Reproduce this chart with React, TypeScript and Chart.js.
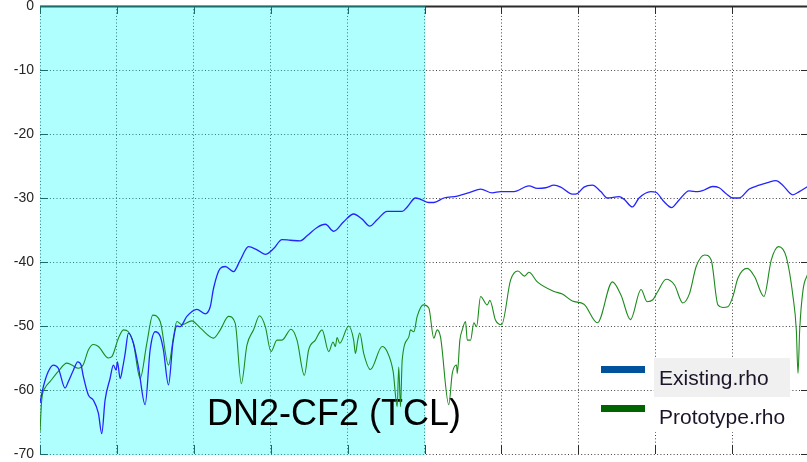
import { useEffect, useRef } from "react";
import { Chart, registerables } from "chart.js";

Chart.register(...registerables);

// Reflection coefficient traces, [x, dB]
const existingRho: [number, number][] = [
  [0, -62], [0.043, -59.5], [0.108, -57.1], [0.173, -56.1], [0.238, -56.6], [0.326, -59.7],
  [0.368, -58.7], [0.434, -56.9], [0.491, -55.6], [0.534, -56.1], [0.564, -57.9], [0.629, -60.8],
  [0.694, -61.6], [0.759, -63.6], [0.803, -66.8], [0.846, -61.6], [0.911, -58.2], [0.954, -56.1],
  [0.99, -56.9], [1.007, -55.6], [1.042, -58.2], [1.077, -56.4], [1.107, -54.3], [1.15, -51.1],
  [1.215, -52.7], [1.28, -56.4], [1.367, -62.3], [1.432, -53.75], [1.497, -50.9], [1.563, -51.6],
  [1.605, -53.75], [1.671, -59.2], [1.728, -52.7], [1.78, -50.0], [1.823, -50.1], [1.91, -48.5],
  [2.04, -47.4], [2.148, -48.1], [2.214, -47.0], [2.257, -44.1], [2.344, -41.0], [2.409, -40.7],
  [2.517, -41.5], [2.604, -39.7], [2.712, -37.6], [2.822, -38.1], [2.93, -38.8], [3.038, -37.9],
  [3.147, -36.5], [3.255, -36.6], [3.385, -36.7], [3.473, -35.9], [3.603, -34.6], [3.711, -34.1],
  [3.819, -35.2], [3.949, -33.7], [4.079, -32.5], [4.189, -33.3], [4.288, -34.4], [4.384, -33.4],
  [4.514, -32.1], [4.71, -32.1], [4.775, -31.4], [4.883, -30.0], [4.948, -30.2], [5.056, -30.7],
  [5.121, -30.7], [5.251, -30.0], [5.426, -29.7], [5.599, -29.1], [5.729, -28.6], [5.881, -29.2],
  [5.99, -29.0], [6.163, -29.0], [6.358, -28.1], [6.467, -28.5], [6.576, -28.4], [6.684, -28.0],
  [6.771, -28.3], [6.923, -29.4], [6.988, -29.3], [7.074, -28.3], [7.184, -28.0], [7.292, -29.0],
  [7.379, -30.0], [7.53, -29.8], [7.595, -30.2], [7.704, -31.4], [7.79, -30.0], [7.943, -29.0],
  [8.008, -29.1], [8.116, -30.6], [8.212, -31.5], [8.311, -30.3], [8.441, -28.9], [8.551, -29.0],
  [8.637, -28.75], [8.746, -28.2], [8.832, -28.4], [8.919, -29.3], [9.007, -30.0], [9.092, -30.0],
  [9.223, -28.6], [9.353, -28.0], [9.462, -27.6], [9.57, -27.3], [9.658, -28.0], [9.788, -29.5],
  [9.874, -29.0], [9.983, -28.2],
];

const prototypeRho: [number, number][] = [
  [0, -66.5], [0.022, -61.6], [0.065, -59.7], [0.13, -58.7], [0.238, -57.1], [0.348, -55.8],
  [0.413, -56.1], [0.499, -56.6], [0.56, -56.1], [0.629, -53.75], [0.694, -52.9], [0.759, -53.2],
  [0.889, -55.0], [0.934, -54.8], [1.02, -51.9], [1.085, -50.6], [1.15, -50.9], [1.215, -52.7],
  [1.302, -58.2], [1.389, -52.7], [1.467, -48.3], [1.563, -49.3], [1.671, -56.1], [1.736, -51.7],
  [1.78, -49.3], [1.845, -49.8], [1.975, -49.2], [2.083, -50.3], [2.257, -51.9], [2.344, -50.6],
  [2.452, -48.5], [2.539, -49.6], [2.618, -59.0], [2.691, -53.0], [2.777, -50.6], [2.855, -48.4],
  [2.93, -50.1], [3.004, -54.0], [3.082, -52.2], [3.147, -52.2], [3.264, -50.5], [3.342, -52.2],
  [3.438, -57.7], [3.493, -53.75], [3.581, -52.2], [3.668, -50.6], [3.754, -54.0], [3.811, -52.5],
  [3.841, -53.2], [3.863, -51.8], [3.897, -52.7], [4.014, -50.0], [4.079, -52.2], [4.102, -54.3],
  [4.132, -52.2], [4.158, -51.1], [4.21, -54.3], [4.297, -56.8], [4.449, -53.2], [4.514, -54.0],
  [4.592, -57.1], [4.645, -62.6], [4.665, -56.4], [4.688, -62.6], [4.71, -55.3], [4.796, -51.7],
  [4.818, -50.6], [4.861, -50.9], [4.905, -48.5], [4.983, -46.7], [5.056, -47.2], [5.121, -51.9],
  [5.165, -50.6], [5.208, -51.7], [5.316, -62.3], [5.361, -57.4], [5.417, -56.1], [5.426, -57.4],
  [5.46, -52.2], [5.491, -50.6], [5.534, -49.3], [5.556, -52.2], [5.599, -52.2], [5.642, -49.5],
  [5.677, -50.1], [5.729, -45.4], [5.816, -46.7], [5.85, -46.0], [5.924, -49.1], [6.003, -49.8],
  [6.12, -42.8], [6.215, -41.4], [6.302, -42.2], [6.358, -41.6], [6.467, -43.1], [6.684, -44.6],
  [6.793, -45.0], [6.923, -46.1], [7.074, -46.6], [7.249, -49.5], [7.444, -43.1], [7.556, -45.2],
  [7.678, -49.0], [7.816, -44.3], [7.895, -46.2], [7.969, -45.9], [8.034, -44.6], [8.142, -42.7],
  [8.251, -43.6], [8.359, -46.4], [8.447, -44.9], [8.533, -40.7], [8.642, -38.9], [8.728, -39.7],
  [8.815, -46.7], [8.88, -47.1], [8.945, -47.0], [9.01, -45.4], [9.076, -42.5], [9.197, -41.0],
  [9.293, -42.3], [9.414, -45.4], [9.509, -39.7], [9.605, -37.6], [9.704, -39.2], [9.792, -45.4],
  [9.835, -50.6], [9.857, -57.4], [9.879, -50.6], [9.922, -44.4], [9.987, -41.8],
];

const seriesLabels = ["Existing.rho", "Prototype.rho"];
const lineColors = ["#2424ff", "#1c8a1c"];
const legendColors = ["#00529c", "#006400"];
const titleText = "DN2-CF2 (TCL)";

const xRange = [0, 10];
const yRange = [-70, 0];
const tickStep = 10;
const bandRange = [0, 5];

const FONT = "'Liberation Sans', Arial, sans-serif";

const decorations = {
  id: "decorations",
  beforeDatasetsDraw(chart: any) {
    const { ctx, chartArea: a, scales } = chart;
    const xs = scales.x;
    const ys = scales.y;
    ctx.save();
    // inward tick marks on all four sides
    ctx.strokeStyle = "#2b2b2b";
    ctx.lineWidth = 1;
    ctx.beginPath();
    for (const t of ys.ticks) {
      const py = Math.round(ys.getPixelForValue(t.value)) + 0.5;
      ctx.moveTo(a.left, py);
      ctx.lineTo(a.left + 8, py);
      ctx.moveTo(a.right - 8, py);
      ctx.lineTo(a.right, py);
    }
    for (const t of xs.ticks) {
      const px = Math.round(xs.getPixelForValue(t.value)) + 0.5;
      ctx.moveTo(px, a.top);
      ctx.lineTo(px, a.top + 8);
      ctx.moveTo(px, a.bottom);
      ctx.lineTo(px, a.bottom - 9);
    }
    ctx.stroke();
    // solid top edge of the box
    ctx.lineWidth = 2;
    ctx.beginPath();
    ctx.moveTo(a.left, a.top + 0.5);
    ctx.lineTo(a.right, a.top + 0.5);
    ctx.stroke();
    // translucent cyan band
    const x0 = xs.getPixelForValue(bandRange[0]);
    const x1 = xs.getPixelForValue(bandRange[1]);
    ctx.fillStyle = "rgba(0,255,255,0.31)";
    ctx.fillRect(x0, a.top, x1 - x0 + 1, a.bottom - a.top + 1);
    // annotation text
    ctx.fillStyle = "#000";
    ctx.font = `36px ${FONT}`;
    ctx.textAlign = "left";
    ctx.textBaseline = "alphabetic";
    ctx.fillText(titleText, a.left + 167, a.bottom - 29);
    ctx.restore();
  },
  afterDraw(chart: any) {
    const { ctx, chartArea: a } = chart;
    ctx.save();
    const swatchX = a.right - 208;
    const textX = a.right - 150;
    const boxX = a.right - 155;
    const rows = [
      { top: a.top + 352, bg: "#f0f0f0" },
      { top: a.top + 391, bg: "#ffffff" },
    ];
    chart.data.datasets.forEach((ds: any, i: number) => {
      const r = rows[i];
      ctx.fillStyle = r.bg;
      ctx.fillRect(boxX, r.top, 136, i === 0 ? 39 : 35);
      ctx.fillStyle = legendColors[i];
      ctx.fillRect(swatchX, r.top + 8, 44, 7);
      ctx.fillStyle = "#1c1428";
      ctx.font = `21px ${FONT}`;
      ctx.textAlign = "left";
      ctx.textBaseline = "alphabetic";
      ctx.fillText(ds.label, textX, r.top + 27);
    });
    ctx.restore();
  },
};

export default function App() {
  const canvasRef = useRef<HTMLCanvasElement | null>(null);

  useEffect(() => {
    document.body.style.margin = "0";
    const canvas = canvasRef.current;
    if (!canvas) return;
    const chart = new Chart(canvas, {
      type: "line",
      data: {
        datasets: [
          {
            label: seriesLabels[0],
            data: existingRho.map(([x, y]) => ({ x, y })),
            borderColor: lineColors[0],
            borderWidth: 1.3,
            pointRadius: 0,
            cubicInterpolationMode: "monotone",
            fill: false,
          },
          {
            label: seriesLabels[1],
            data: prototypeRho.map(([x, y]) => ({ x, y })),
            borderColor: lineColors[1],
            borderWidth: 1.1,
            pointRadius: 0,
            cubicInterpolationMode: "monotone",
            fill: false,
          },
        ],
      },
      options: {
        animation: false,
        responsive: false,
        events: [],
        layout: { padding: { top: 6, left: 0, right: 0, bottom: 8 } },
        plugins: { legend: { display: false }, tooltip: { enabled: false } },
        scales: {
          x: {
            type: "linear",
            min: xRange[0],
            max: xRange[1],
            ticks: { display: false, stepSize: 1 },
            grid: { color: "rgba(0,0,0,0.75)", lineWidth: 1, drawTicks: false },
            border: { display: false, dash: [1, 2.3] },
            afterFit: (s: any) => {
              s.height = 0;
              s.paddingLeft = 0;
              s.paddingRight = 0;
            },
          },
          y: {
            type: "linear",
            min: yRange[0],
            max: yRange[1],
            ticks: {
              stepSize: tickStep,
              padding: 6,
              color: "#262626",
              font: { family: FONT, size: 14 },
            },
            grid: { color: "rgba(0,0,0,0.75)", lineWidth: 1, drawTicks: false },
            border: { display: false, dash: [1, 2.3] },
            afterFit: (s: any) => {
              s.width = 40;
              s.paddingTop = 0;
              s.paddingBottom = 0;
            },
          },
        },
      },
      plugins: [decorations],
    });
    return () => chart.destroy();
  }, []);

  return (
    <div style={{ width: 807, height: 462, overflow: "hidden" }}>
      <canvas ref={canvasRef} width={809} height={462} style={{ display: "block" }} />
    </div>
  );
}
